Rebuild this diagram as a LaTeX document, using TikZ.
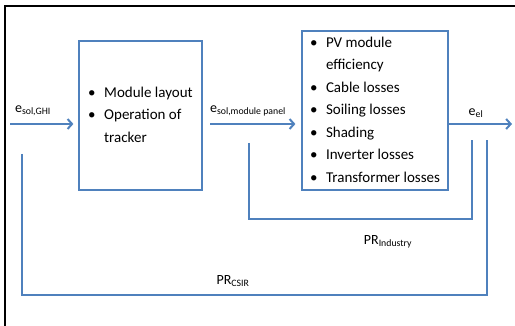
\documentclass[tikz,border=0pt]{standalone}
\usepackage{fontspec}
\setmainfont{Carlito}
\usepackage{array}
\usetikzlibrary{arrows.meta,positioning,calc}
\definecolor{flowblue}{RGB}{79,129,189}

\begin{document}
\begin{tikzpicture}[x=1pt, y=-1pt,
    box/.style={draw=flowblue, line width=1.2pt, fill=white, align=left, inner sep=0pt,
        font=\fontsize{15}{22.5}\selectfont},
    flow/.style={draw=flowblue, line width=2pt, -{Straight Barb[length=4.5pt, width=10pt, line width=2pt]}},
    loop/.style={draw=flowblue, line width=2pt},
    lbl/.style={font=\fontsize{14}{16}\selectfont, inner sep=0pt}
]
\useasboundingbox (0,0) rectangle (515,326);
\draw[line width=1.8pt] (5,326) -- (5,6) -- (515,6);

% the two blocks
\node[box, minimum width=123pt, minimum height=149pt] (layout) at (140.5,115.5)
    {\begin{tabular}{@{}p{16pt}@{}l@{}}\textbullet & Module layout\\ \textbullet & Operation of\\ & tracker\end{tabular}};
\node[box, minimum width=146pt, minimum height=159pt] (losses) at (375,110.5)
    {\begin{tabular}{@{}p{16pt}@{}l@{}}\textbullet & PV module\\ & efficiency\\ \textbullet & Cable losses\\
     \textbullet & Soiling losses\\ \textbullet & Shading\\ \textbullet & Inverter losses\\ \textbullet & Transformer losses\end{tabular}};

% inputs and output
\coordinate (ghi) at (10,124);
\coordinate (mp) at (210,124);
\coordinate (out) at (512,124);
\draw[flow, shorten >=5pt] (ghi) -- (ghi -| layout.west);
\draw[flow, shorten >=6pt] (mp) -- (mp -| losses.west);
\draw[flow] (losses.east |- out) -- (out);

\node[lbl] (eghi) at (33,111) {e\textsubscript{sol,GHI}};
\node[lbl] (emp) at (248,111) {e\textsubscript{sol,module panel}};
\node[lbl] (eel) at (476,113) {e\textsubscript{el}};

% performance ratio brackets
\coordinate (ia) at (249,143);
\coordinate (ib) at (472,140);
\draw[loop] (ia) -- (249,219) -- (472,219) -- (ib);
\coordinate (ca) at (22,154);
\coordinate (cb) at (487,140);
\draw[loop] (ca) -- (22,295) -- (487,295) -- (cb);

\node[lbl] (prind) at (388,242) {PR\textsubscript{Industry}};
\node[lbl] (prcsir) at (233,281) {PR\textsubscript{CSIR}};
\end{tikzpicture}
\end{document}
